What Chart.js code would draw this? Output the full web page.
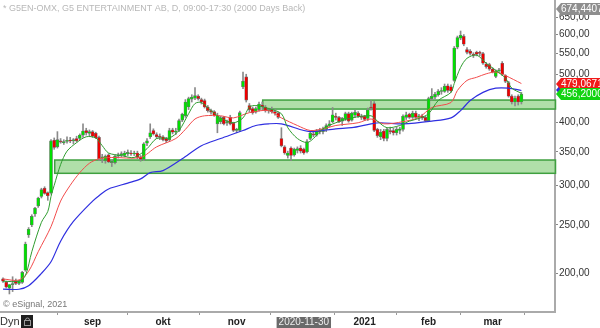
<!DOCTYPE html>
<html>
<head>
<meta charset="utf-8">
<script src="https://cdn.jsdelivr.net/npm/chart.js@4.4.1/dist/chart.umd.min.js"></script>
<style>
  html, body { margin: 0; padding: 0; background: #fff; overflow: hidden; }
  canvas { display: block; }
</style>
</head>
<body>
<canvas id="chart" width="600" height="328"></canvas>
<script>
// G5EN daily candles, Jul 2020 - Mar 2021, with three moving averages and two support zones.
const FONT = '"Liberation Sans", Arial, sans-serif';

const titleText = '* G5EN-OMX, G5 ENTERTAINMENT AB, D, 09:00-17:30 (2000 Days Back)';

// one entry per trading day (bar index = position in array)
const opens = [195,192,187,190,193,191,192,203,239,250,263,273,285,296,290,290,369,358,368,365,
  367,369,368,372,372,378,386,381,384,381,374,340,336,345,333,333,343,345,344,347,
  348,347,348,342,338,364,375,386,379,376,375,372,370,387,383,386,405,413,430,446,
  448,452,445,443,430,423,421,398,402,410,400,410,399,386,386,472,494,433,427,420,
  425,434,430,423,425,421,418,372,358,344,356,345,352,356,354,350,372,380,378,386,
  384,388,395,402,412,410,403,407,417,405,414,418,412,412,408,430,437,388,375,385,
  372,386,386,382,386,388,410,416,410,418,410,412,410,404,447,450,455,462,462,474,
  472,486,566,590,595,560,556,548,553,553,550,524,523,512,495,508,526,497,481,452,
  440,452,440];
const highs = [196,193,190,197,195,194,202,231,247,262,271,284,296,298,291,370,373,384,372,370,
  375,374,372,376,380,398,390,387,386,383,376,346,345,347,337,345,348,350,351,353,
  352,351,351,344,365,372,398,389,382,380,377,374,390,390,390,407,418,445,450,455,
  470,455,448,446,433,426,423,418,412,412,405,414,401,390,422,505,500,437,430,430,
  440,440,433,428,430,426,420,391,360,351,358,356,358,360,356,370,385,386,388,390,
  392,398,404,429,418,412,410,420,420,420,424,421,416,414,428,443,441,390,388,388,
  390,392,390,392,392,415,420,418,422,422,416,416,412,450,468,460,466,470,478,478,
  476,568,596,610,600,565,560,552,556,556,553,528,526,515,510,514,530,499,484,455,
  452,455,460];
const lows = [192,187,182,184,190,190,191,202,236,248,260,271,283,288,280,288,354,356,364,362,
  364,365,363,366,370,374,378,376,374,372,336,333,332,333,327,331,340,342,342,344,
  344,344,339,335,336,360,372,378,372,370,368,365,368,380,379,384,402,410,425,440,
  445,444,436,428,420,416,412,382,398,396,395,396,384,382,384,468,440,420,416,418,
  422,425,420,418,418,414,408,358,346,340,336,343,348,348,346,348,370,375,376,380,
  380,384,392,400,405,400,395,404,401,403,410,410,406,404,404,424,384,374,370,368,
  368,380,378,378,380,385,406,408,408,408,404,406,402,402,444,446,452,456,460,460,
  460,484,562,586,570,549,546,540,544,544,523,514,509,503,492,504,497,481,450,436,
  432,434,436];
const closes = [193,188,190,191,191,193,201,229,245,260,270,283,294,289,286,368,357,370,366,367,
  369,368,370,368,378,385,382,384,376,373,339,342,343,334,335,343,345,347,348,349,
  347,348,341,338,363,368,382,380,375,374,370,368,386,383,385,404,416,440,447,450,
  453,447,440,430,423,420,414,413,409,398,402,398,386,388,419,484,444,425,419,427,
  436,430,423,425,421,418,410,360,348,348,344,354,355,351,348,367,381,378,386,384,
  388,395,398,415,410,402,408,417,403,418,420,412,410,406,424,428,386,377,383,372,
  388,384,382,388,389,412,415,410,418,410,413,409,404,447,452,456,462,464,473,464,
  463,564,592,598,574,553,550,545,548,550,526,518,512,505,508,510,500,484,452,440,
  448,440,456.2];

// moving averages at sample bars
const greenMaBars = [0,5,7,9,12,14,15,16,18,20,23,26,29,31,33,37,41,45,48,52,55,58,60,62,65,68,72,75,77,79,
  83,87,89,92,95,97,100,104,109,115,117,120,124,127,130,133,136,140,141,143,145,148,151,154,157,159,162];
const greenMaValues = [193,193,198,221,253,266,285,300,330,351,365,375,373,360,348,344,341,355,372,373,
  386,417,437,439,423,409,400,409,430,433,427,417,391,372,365,372,389,400,409,413,
  403,391,395,403,408,417,443,460,479,516,538,546,526,509,491,469,458];

const redMaBars = [0,5,8,11,15,18,21,24,27,30,34,43,48,54,57,60,63,68,72,77,
  83,87,92,96,100,104,111,115,119,125,130,134,140,142,145,148,151,154,157,162];
const redMaValues = [195,194,202,221,248,279,300,318,332,339,341,341,358,372,388,407,413,413,409,419,
  423,409,395,386,389,395,400,407,398,402,410,429,439,464,486,493,501,505,497,479.07];

const blueMaBars = [0,5,8,12,15,18,22,28,30,33,39,43,46,50,56,62,68,75,79,83,
  87,94,97,104,109,115,118,125,134,140,143,146,150,154,158,162];
const blueMaValues = [186,186,189,200,211,232,254,279,286,295,303,309,318,321,339,360,372,386,395,398,
  398,386,384,389,391,398,400,398,403,409,423,443,460,469,469,464];

// x-axis: first bar of each month
const monthTickBars = [28, 50, 73, 94, 113, 133, 153];
const monthLabels = ['sep', 'okt', 'nov', '2020-11-30', '2021', 'feb', 'mar'];

const yTickValues = [200, 250, 300, 350, 400, 500, 550, 600, 650];

// support / resistance zones
const zoneStartBars = [16, 81];
const zoneTops = [337, 444];
const zoneBottoms = [317, 426];

// price tags on the right axis
const tagValues = [674.4407, 464, 479.0671, 456.2];
const tagTexts = ['674,4407', '', '479,0671', '456,2000'];
const tagColors = ['#8e8e8e', '#2b2bd8', '#f01a1a', '#12d312'];

const GREEN = '#00e000';
const RED = '#ee0000';

const wickData = highs.map((h, i) => ({ x: i, y: [lows[i], h] }));
const bodyData = opens.map((o, i) => ({ x: i, y: [o, closes[i]] }));
const bodyColors = opens.map((o, i) => closes[i] >= o ? GREEN : RED);
const toPoints = (bars, vals) => bars.map((b, k) => ({ x: b, y: vals[k] }));

const decor = {
    id: 'decor',
    beforeDraw(chart) {
        const { ctx } = chart;
        const x = chart.scales.x;
        const k = monthLabels.indexOf('2020-11-30');
        const px = x.getPixelForValue(monthTickBars[k]);
        ctx.save();
        ctx.font = '10px ' + FONT;
        const w = ctx.measureText(monthLabels[k]).width + 4;
        ctx.fillStyle = '#6a6a6a';
        ctx.fillRect(px - w / 2, 317, w, 11);
        ctx.restore();
    },
    beforeDatasetsDraw(chart) {
        const { ctx, chartArea } = chart;
        const x = chart.scales.x, y = chart.scales.y;
        ctx.save();
        zoneStartBars.forEach((b, k) => {
            const left = x.getPixelForValue(b);
            const top = y.getPixelForValue(zoneTops[k]);
            const bottom = y.getPixelForValue(zoneBottoms[k]);
            ctx.fillStyle = 'rgba(150, 212, 140, 0.75)';
            ctx.fillRect(left, top, chartArea.right - left, bottom - top);
            ctx.strokeStyle = '#3fa03f';
            ctx.lineWidth = 1.5;
            ctx.strokeRect(left + 0.5, top, chartArea.right - left, bottom - top);
        });
        ctx.restore();
    },
    afterDraw(chart) {
        const { ctx, chartArea } = chart;
        const y = chart.scales.y;
        ctx.save();

        // title and copyright
        ctx.textBaseline = 'middle';
        ctx.font = '9px ' + FONT;
        ctx.fillStyle = '#b8b8b8';
        ctx.fillText(titleText, 3, 9);
        ctx.fillStyle = '#777';
        ctx.fillText('\u00a9 eSignal, 2021', 3, 305);

        // bottom-left "Dyn" + lock box
        ctx.font = '11px ' + FONT;
        ctx.fillStyle = '#333';
        ctx.fillText('Dyn', 0, 322);
        ctx.fillStyle = '#1e1e1e';
        ctx.fillRect(21, 315, 12, 13);
        ctx.strokeStyle = '#999';
        ctx.lineWidth = 1;
        ctx.strokeRect(24.5, 320.5, 6, 5);
        ctx.beginPath();
        ctx.arc(27.5, 320, 2, Math.PI, 0);
        ctx.stroke();

        // price tags
        ctx.font = '10px ' + FONT;
        tagValues.forEach((v, k) => {
            const py = Math.round(y.getPixelForValue(v));
            const x0 = chartArea.right + 1;
            ctx.fillStyle = tagColors[k];
            ctx.beginPath();
            ctx.moveTo(x0, py);
            ctx.lineTo(x0 + 5, py - 6);
            ctx.lineTo(600, py - 6);
            ctx.lineTo(600, py + 6);
            ctx.lineTo(x0 + 5, py + 6);
            ctx.closePath();
            ctx.fill();
            if (tagTexts[k]) {
                ctx.fillStyle = '#fff';
                ctx.fillText(tagTexts[k], x0 + 5, py + 0.5);
            }
        });
        ctx.restore();
    }
};

new Chart(document.getElementById('chart').getContext('2d'), {
    type: 'bar',
    data: {
        datasets: [
            {
                type: 'line', label: 'MA short', data: toPoints(greenMaBars, greenMaValues),
                borderColor: '#2f9c2f', borderWidth: 1, pointRadius: 0, tension: 0.3, order: 0
            },
            {
                type: 'line', label: 'MA mid', data: toPoints(redMaBars, redMaValues),
                borderColor: '#f24b4b', borderWidth: 1, pointRadius: 0, tension: 0.3, order: 0
            },
            {
                type: 'line', label: 'MA long', data: toPoints(blueMaBars, blueMaValues),
                borderColor: '#2f2fe0', borderWidth: 1.2, pointRadius: 0, tension: 0.3, order: 0
            },
            {
                label: 'body', data: bodyData, backgroundColor: bodyColors,
                borderColor: '#707070', borderWidth: 0.6, borderSkipped: false,
                barThickness: 3, grouped: false, order: 1
            },
            {
                label: 'wick', data: wickData, backgroundColor: '#8a8a8a',
                barThickness: 1, grouped: false, order: 2
            }
        ]
    },
    options: {
        responsive: false,
        animation: false,
        layout: { padding: 0 },
        plugins: { legend: { display: false }, tooltip: { enabled: false } },
        scales: {
            x: {
                type: 'linear',
                min: -0.94,
                max: 172.5,
                bounds: 'data',
                offset: false,
                grid: { drawOnChartArea: false, drawTicks: true, tickLength: 3, color: '#999' },
                border: { display: true, color: '#aaaaaa', width: 2 },
                afterBuildTicks: scale => { scale.ticks = monthTickBars.map(v => ({ value: v })); },
                afterFit: scale => { scale.height = 16; scale.paddingLeft = 0; scale.paddingRight = 0; },
                ticks: {
                    autoSkip: false,
                    maxRotation: 0,
                    padding: 1,
                    color: ctx => (ctx.tick && ctx.tick.value === monthTickBars[3]) ? '#eeeeee' : '#222',
                    font: ctx => (ctx.tick && ctx.tick.value === monthTickBars[3])
                        ? { family: FONT, size: 10, weight: 'normal' }
                        : { family: FONT, size: 10, weight: 'bold' },
                    callback: v => monthLabels[monthTickBars.indexOf(v)]
                }
            },
            y: {
                type: 'logarithmic',
                position: 'right',
                min: 167.5,
                max: 703.5,
                grid: { drawOnChartArea: false, drawTicks: true, tickLength: 3, color: '#888' },
                border: { display: true, color: '#aaaaaa', width: 2 },
                afterBuildTicks: scale => { scale.ticks = yTickValues.map(v => ({ value: v })); },
                afterFit: scale => { scale.width = 45; scale.paddingTop = 0; scale.paddingBottom = 0; },
                ticks: {
                    padding: 1,
                    color: '#333',
                    font: { family: FONT, size: 10 },
                    callback: v => v.toFixed(2).replace('.', ',')
                }
            }
        }
    },
    plugins: [decor]
});
</script>
</body>
</html>
